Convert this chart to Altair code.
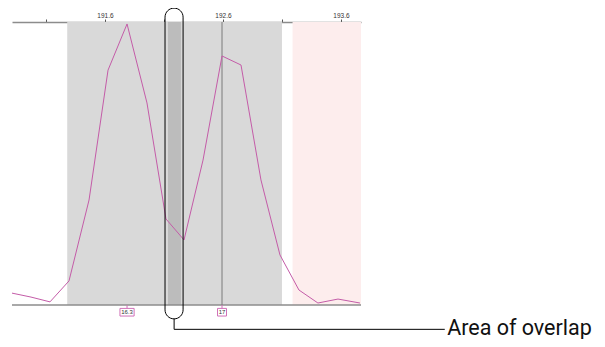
import altair as alt
import pandas as pd

# m/z profile (trace)
mz = [190.812, 190.973, 191.134, 191.295, 191.465, 191.626, 191.787, 191.956,
      192.117, 192.270, 192.431, 192.592, 192.753, 192.922, 193.083, 193.244,
      193.405, 193.575, 193.761]
intensity = [4.2, 2.8, 1.1, 8.5, 37.1, 83.0, 99.3, 71.4,
             30.4, 23.0, 51.2, 88.0, 84.8, 44.2, 17.7, 5.3,
             0.7, 2.1, 0.7]

# shaded regions
region_start = [191.28, 193.19]
region_end = [193.10, 193.77]
region_kind = ["window", "next"]
overlap_start = [192.134]
overlap_end = [192.244]

# peak markers
peak_mz = [191.787, 192.592]
peak_label = ["16.3", "17"]

# axis
tick_values = [191.1, 191.6, 192.1, 192.6, 193.1, 193.6]
labeled_ticks = ["191.6", "192.6", "193.6"]

# annotation
callout_text = ["Area of overlap"]

XDOM = [190.812, 193.77]
xs = alt.Scale(domain=XDOM, nice=False, zero=False)
ys = alt.Scale(domain=[0, 100], nice=False, zero=False)

label_expr = "indexof(" + str(labeled_ticks) + ", datum.label) >= 0 ? datum.label : ''"
XAXIS = alt.Axis(
    orient="top", values=tick_values, format=".1f", labelExpr=label_expr,
    grid=False, title=None, domainColor="#8c8c8c", domainWidth=1.5,
    tickColor="#555555", tickSize=3, tickWidth=1, labelFontSize=6.5,
    labelFont="Liberation Sans", labelColor="#333333", labelPadding=1,
    labelOverlap=False, labelFlush=False)


def X(f):
    return alt.X(f, scale=xs, axis=XAXIS, title=None)


def Y(f):
    return alt.Y(f, scale=ys, axis=None, title=None)


trace = pd.DataFrame({"x": mz, "y": intensity})
regions = pd.DataFrame({"x": region_start, "x2": region_end, "kind": region_kind,
                        "y": [0, 0], "y2": [100, 100]})
overlap = pd.DataFrame({"x": overlap_start, "x2": overlap_end, "y": [0], "y2": [100]})
peaks = pd.DataFrame({"x": peak_mz, "label": peak_label})

regions_layer = alt.Chart(regions).mark_rect().encode(
    x=X("x:Q"), x2="x2:Q", y=Y("y:Q"), y2="y2:Q",
    color=alt.Color("kind:N", scale=alt.Scale(domain=["window", "next"],
                                              range=["#d9d9d9", "#fdeded"]), legend=None),
)

overlap_layer = alt.Chart(overlap).mark_rect(color="#bcbcbc").encode(
    x=X("x:Q"), x2="x2:Q", y=Y("y:Q"), y2="y2:Q")

bottom_axis = alt.Chart(pd.DataFrame({"x": [XDOM[0]], "x2": [XDOM[1]], "y": [0]})).mark_rule(
    color="#8c8c8c", strokeWidth=1.5).encode(x=X("x:Q"), x2="x2:Q", y=Y("y:Q"))

apex = peaks[peaks.label == "17"].assign(y=0, y2=100)
apex_rule = alt.Chart(apex).mark_rule(color="#7a7a7a", strokeWidth=1).encode(
    x=X("x:Q"), y=Y("y:Q"), y2="y2:Q")

line_layer = alt.Chart(trace).mark_line(color="#c45ca8", strokeWidth=1).encode(
    x=X("x:Q"), y=Y("y:Q"))

pk = peaks.assign(t0=0.0, t1=-1.2, b0=-1.2, b1=-3.9, tm=-2.55)
peak_ticks = alt.Chart(pk).mark_rule(color="#d070b8", strokeWidth=1).encode(
    x=X("x:Q"), y=Y("t0:Q"), y2="t1:Q")

peak_boxes = alt.Chart(pk).transform_calculate(
    xl="datum.x - (0.011*length(datum.label) + 0.016)",
    xr="datum.x + (0.011*length(datum.label) + 0.016)"
).mark_rect(fill="white", stroke="#d070b8", strokeWidth=1).encode(
    x=X("xl:Q"), x2="xr:Q", y=Y("b0:Q"), y2="b1:Q")

peak_text = alt.Chart(pk).mark_text(
    fontSize=6, font="Liberation Sans", color="#333333", baseline="middle").encode(
    x=X("x:Q"), y=Y("tm:Q"), text="label:N")

capsule = alt.Chart(pd.DataFrame({"x": [192.109], "x2": [192.262],
                                  "y": [-4.9], "y2": [104.9]})).mark_rect(
    fill="transparent", stroke="black", strokeWidth=1, cornerRadius=9).encode(
    x=X("x:Q"), x2="x2:Q", y=Y("y:Q"), y2="y2:Q")

callout_v = alt.Chart(pd.DataFrame({"x": [192.186], "y": [-4.9], "y2": [-8.6]})).mark_rule(
    color="black").encode(x=X("x:Q"), y=Y("y:Q"), y2="y2:Q")

callout_h = alt.Chart(pd.DataFrame({"x": [192.186], "x2": [194.48], "y": [-8.6]})).mark_rule(
    color="black").encode(x=X("x:Q"), x2="x2:Q", y=Y("y:Q"))

callout_t = alt.Chart(pd.DataFrame({"x": [194.50], "y": [-10.6], "t": callout_text})).mark_text(
    align="left", baseline="alphabetic", fontSize=21.5, font="Roboto", color="#111111").encode(
    x=X("x:Q"), y=Y("y:Q"), text="t:N")

chart = alt.layer(
    regions_layer, overlap_layer, bottom_axis, apex_rule, line_layer,
    peak_ticks, peak_boxes, peak_text, capsule, callout_v, callout_h, callout_t
).properties(
    width=349, height=283,
    autosize=alt.AutoSizeParams(type="none"),
    padding={"left": 4, "top": 14, "right": 236, "bottom": 34},
).configure_view(stroke=None)

chart.save("out.html", embed_options={"renderer": "svg", "actions": False})
